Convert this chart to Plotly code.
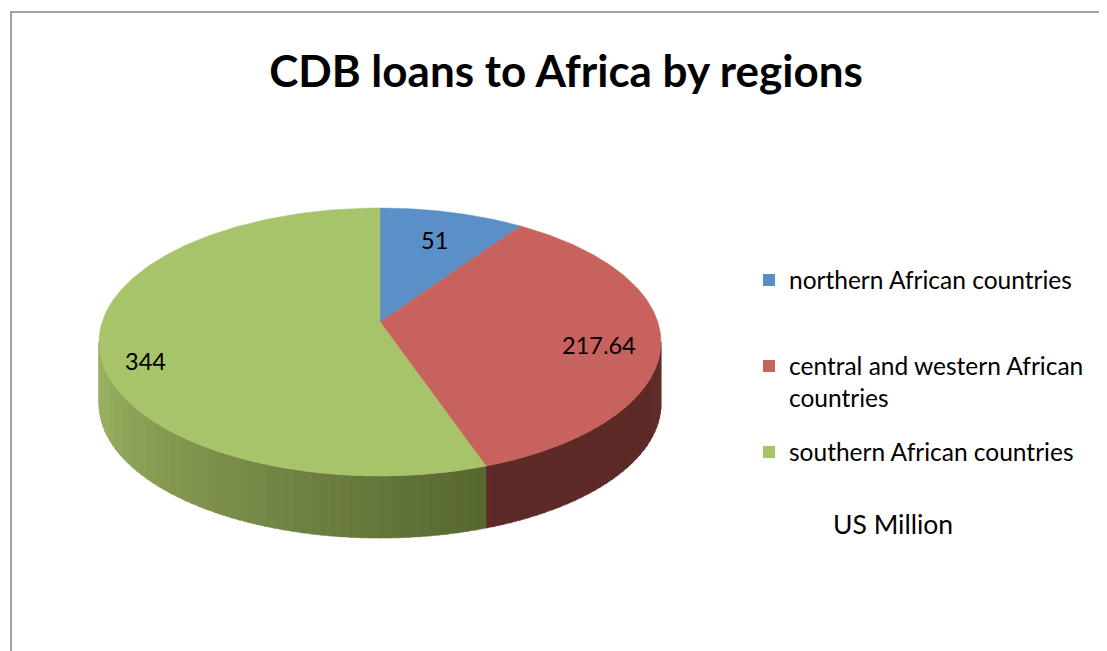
import numpy as np
import plotly.graph_objects as go

# ---- data ----
regions = ["northern African countries",
           "central and western African countries",
           "southern African countries"]
legend_labels = ["northern African countries",
                 "central and western African<br>countries",
                 "southern African countries"]
loans = [51, 217.64, 344]
label_texts = ["51", "217.64", "344"]
unit_note = "US Million"
title_text = "CDB loans to Africa by regions"

# ---- style ----
top_colors = ["#5b8fc8", "#c8625f", "#a8c46a"]
side_colors_light = ["#3d6796", "#5e2a28", "#98ae5f"]
side_colors_dark = ["#3d6796", "#5e2a28", "#4e5e2a"]
label_frac = [0.75, 0.78, 0.85]

W, H = 1107, 651
OFF = 8                    # page body margin of the written html
cx, cy = 380.0, 342.0      # ellipse centre (screen px)
rx, ry = 281.0, 134.0      # ellipse radii
apex_dy = -20.0            # apex offset (perspective)
depth = 62.0
FONT = "Lato"

def px2x(p):
    return (p - OFF) / W

def px2y(p):
    return 1 - (p - OFF) / H

def ell(theta_deg):
    t = np.radians(theta_deg)
    return cx + rx * np.sin(t), cy - ry * np.cos(t)

def hex2rgb(h):
    h = h.lstrip("#")
    return np.array([int(h[i:i + 2], 16) for i in (0, 2, 4)], dtype=float)

def mix(c1, c2, f):
    a, b = hex2rgb(c1), hex2rgb(c2)
    c = a + (b - a) * f
    return "rgb(%d,%d,%d)" % tuple(np.round(c))

total = float(sum(loans))
bounds = np.concatenate([[0.0], np.cumsum(loans) / total * 360.0])
ax_, ay_ = cx, cy + apex_dy

fig = go.Figure()

# ---- side walls (visible front half: 90..270 deg) ----
for i in range(len(loans)):
    a0, a1 = max(bounds[i], 90.0), min(bounds[i + 1], 270.0)
    if a1 <= a0:
        continue
    edges = np.arange(a0, a1, 2.0).tolist() + [a1]
    for k in range(len(edges) - 1):
        s0 = edges[k]
        s1 = min(edges[k + 1] + 0.3, a1)
        th = np.linspace(s0, s1, 6)
        xs, ys = ell(th)
        px = np.concatenate([xs, xs[::-1], xs[:1]])
        py = np.concatenate([ys, ys[::-1] + depth, ys[:1]])
        f = (270.0 - (s0 + s1) / 2) / (270.0 - 90.0)
        col = mix(side_colors_light[i], side_colors_dark[i], min(max(f * 1.6 - 0.1, 0), 1))
        fig.add_trace(go.Scatter(x=px, y=py, mode="lines", fill="toself",
                                 fillcolor=col, line=dict(width=0.6, color=col),
                                 hoverinfo="skip", showlegend=False))

# ---- top faces ----
for i in range(len(loans)):
    th = np.linspace(bounds[i], bounds[i + 1], 200)
    xs, ys = ell(th)
    px = np.concatenate([[ax_], xs, [ax_]])
    py = np.concatenate([[ay_], ys, [ay_]])
    fig.add_trace(go.Scatter(x=px, y=py, mode="lines", fill="toself",
                             fillcolor=top_colors[i],
                             line=dict(width=0.5, color=top_colors[i]),
                             name=regions[i], hoverinfo="name",
                             showlegend=False))

# ---- data labels ----
for i in range(len(loans)):
    mid = (bounds[i] + bounds[i + 1]) / 2
    ex, ey = ell(mid)
    lx = ax_ + label_frac[i] * (ex - ax_)
    ly = ay_ + label_frac[i] * (ey - ay_)
    fig.add_annotation(x=lx, y=ly, text=label_texts[i], showarrow=False,
                       font=dict(family=FONT, size=23.5, color="#000000"))

# ---- legend entries (one legend per entry, Excel-like even spacing) ----
legend_names = ["legend", "legend2", "legend3"]
legend_y = [280, 382, 452]
for i in range(len(loans)):
    fig.add_trace(go.Scatter(x=[None], y=[None], mode="markers",
                             marker=dict(symbol="square", size=14, color=top_colors[i]),
                             name=legend_labels[i], legend=legend_names[i]))
leg_common = dict(font=dict(family=FONT, size=24.5, color="#000000"),
                  itemsizing="constant", valign="top",
                  bgcolor="rgba(0,0,0,0)", xanchor="left", yanchor="middle")
legend_layout = {}
for i, ln in enumerate(legend_names):
    legend_layout[ln] = dict(x=px2x(749), y=px2y(legend_y[i]), **leg_common)

fig.add_annotation(x=893, y=524, text=unit_note, showarrow=False,
                   font=dict(family=FONT, size=26.5, color="#000000"))

# ---- chart-area border (left and top) ----
fig.add_shape(type="path", path="M 11 %d L 11 12 L %d 12" % (H + 5, W + 5),
              line=dict(color="#a0a0a0", width=2))

fig.update_layout(
    width=W, height=H,
    margin=dict(l=0, r=0, t=0, b=0),
    paper_bgcolor="white", plot_bgcolor="white",
    xaxis=dict(range=[OFF, W + OFF], visible=False, fixedrange=True),
    yaxis=dict(range=[H + OFF, OFF], visible=False, fixedrange=True),
    title=dict(text="<b>" + title_text + "</b>", x=px2x(566), xanchor="center",
               y=px2y(72), yanchor="middle",
               font=dict(family=FONT, size=44, color="#000000")),
    showlegend=True,
    **legend_layout,
)

fig.write_html("out.html")
